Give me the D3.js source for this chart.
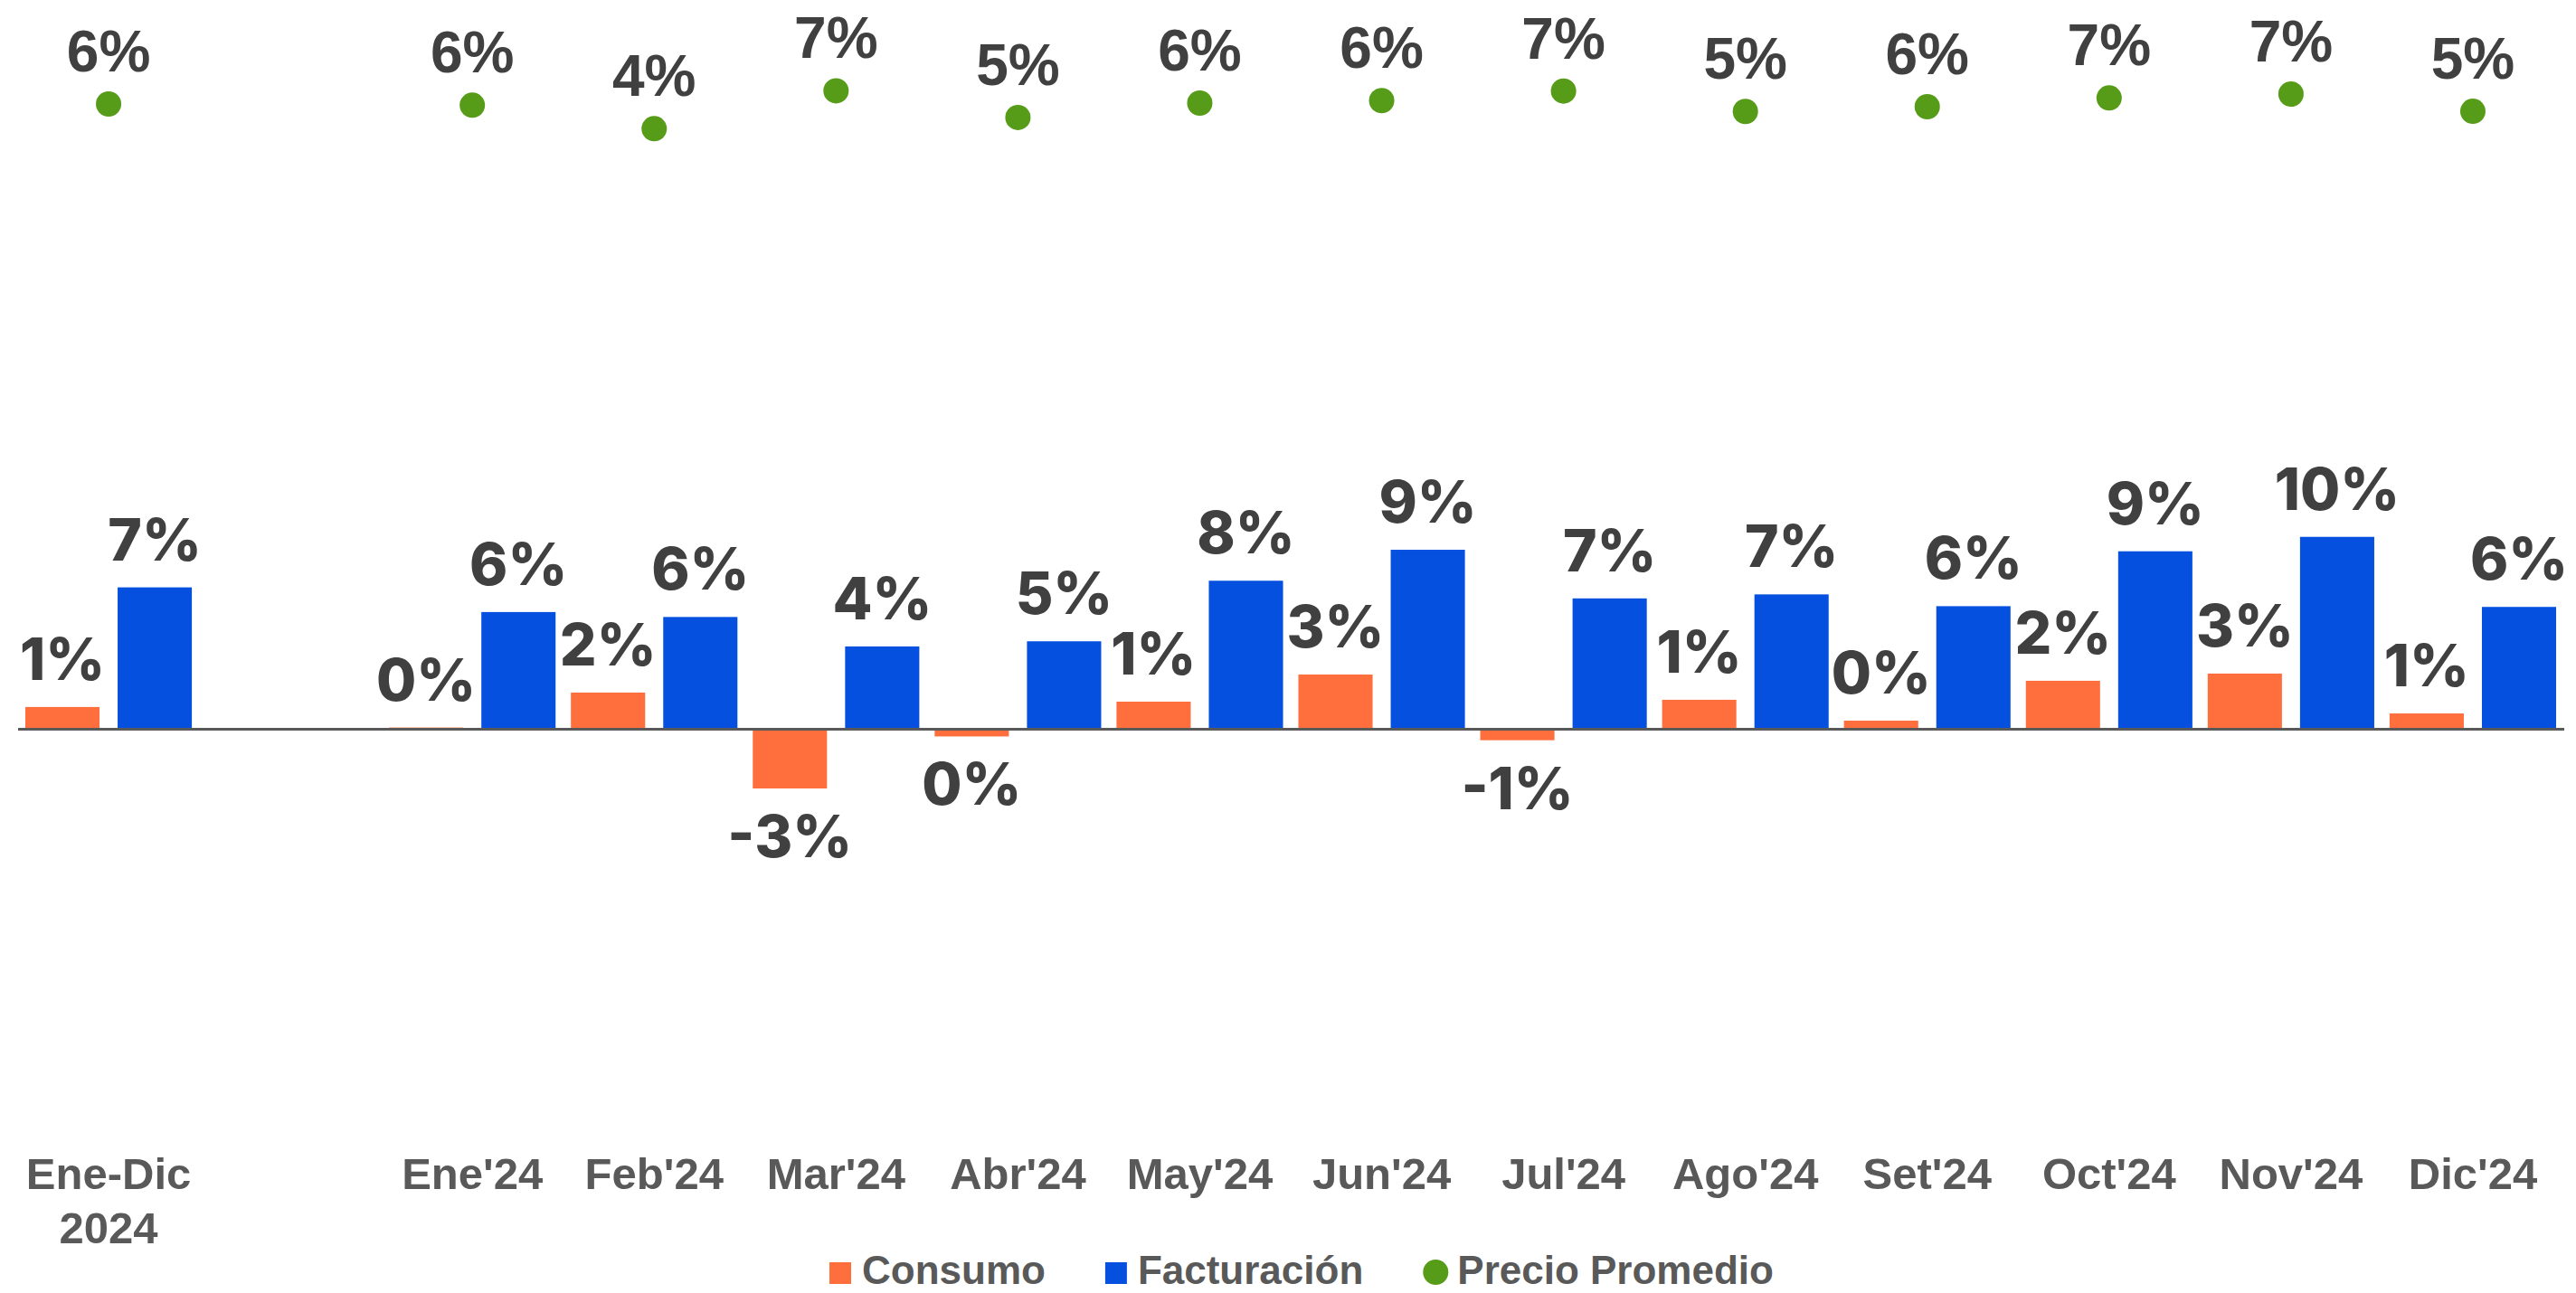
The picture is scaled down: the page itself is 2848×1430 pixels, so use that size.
<!DOCTYPE html>
<html>
<head>
<meta charset="utf-8">
<script src="https://cdn.jsdelivr.net/npm/d3@7"></script>
<style>
  body { margin: 0; background: #fff; }
  svg { display: block; }
</style>
</head>
<body>
<svg id="chart" width="2848" height="1430"></svg>
<script>
// data ("" is the empty spacer slot between the year total and the months)
var categorias = ["Ene-Dic 2024", "", "Ene'24", "Feb'24", "Mar'24", "Abr'24", "May'24", "Jun'24",
                  "Jul'24", "Ago'24", "Set'24", "Oct'24", "Nov'24", "Dic'24"];
var consumo     = [1.10, null, 0.02, 1.86, -3.19, -0.45, 1.38, 2.81, -0.65, 1.48, 0.38, 2.48, 2.86, 0.76];
var facturacion = [7.40, null, 6.10, 5.84, 4.29, 4.56, 7.75, 9.38, 6.82, 7.03, 6.41, 9.30, 10.06, 6.37];
var precio      = [6.09, null, 5.97, 3.61, 7.42, 4.73, 6.18, 6.43, 7.39, 5.34, 5.82, 6.70, 7.09, 5.36];
var series = ["Consumo", "Facturación"];
var leyenda = ["Consumo", "Facturación", "Precio Promedio"];

var orange = '#ff6e3d';
var blue = '#0650e0';
var green = '#579c18';
var labelGrey = '#404040';
var axisGrey = '#595959';

var svg = d3.select('#chart');

/// Scales
var x = d3.scaleBand()
  .domain(categorias)
  .range([19.5, 2834.5])
  .padding(0);

var x1 = d3.scaleBand()
  .domain(series)
  .range([0, x.bandwidth()])
  .paddingInner(0.196)
  .paddingOuter(0.083);

var y = d3.scaleLinear().domain([0, 10]).range([805, 595]);
var y2 = d3.scaleLinear().domain([0, 10]).range([182, 72]);

var color = { 'Consumo': orange, 'Facturación': blue };

var rows = [];
categorias.forEach(function (c, i) {
  if (consumo[i] === null) return;
  rows.push({ cat: c, serie: 'Consumo', v: consumo[i] });
  rows.push({ cat: c, serie: 'Facturación', v: facturacion[i] });
});

function pct(v) {
  var r = Math.round(v);
  if (r === 0) r = 0; // drop -0
  return r + '%';
}

/// Bars
svg.append('g').selectAll('rect')
  .data(rows)
  .enter().append('rect')
  .attr('x', function (d) { return x(d.cat) + x1(d.serie); })
  .attr('width', x1.bandwidth())
  .attr('y', function (d) { return Math.min(y(d.v), y(0)); })
  .attr('height', function (d) { return Math.abs(y(d.v) - y(0)); })
  .attr('fill', function (d) { return color[d.serie]; });

/// zero line
svg.append('g')
  .attr('transform', 'translate(0,' + (y(0) + 1) + ')')
  .call(d3.axisBottom(x).tickSize(0).tickSizeOuter(0).tickFormat(''))
  .call(function (g) {
    g.select('.domain').attr('stroke', axisGrey).attr('stroke-width', 3);
  });

/// bar labels
svg.append('g').selectAll('text')
  .data(rows)
  .enter().append('text')
  .attr('text-anchor', 'middle')
  .attr('x', function (d) { return x(d.cat) + x1(d.serie) + x1.bandwidth() / 2; })
  .attr('y', function (d) { return d.v >= 0 ? y(d.v) - 30 : y(d.v) + 76; })
  .attr('font-family', 'Inter, "Noto Sans", sans-serif')
  .attr('font-weight', 800)
  .attr('font-size', '64px')
  .attr('fill', labelGrey)
  .text(function (d) { return pct(d.v); });

/// precio promedio dots
var puntos = categorias.map(function (c, i) { return { cat: c, v: precio[i] }; })
  .filter(function (d) { return d.v !== null; });

svg.append('g').selectAll('circle')
  .data(puntos)
  .enter().append('circle')
  .attr('cx', function (d) { return x(d.cat) + x.bandwidth() / 2; })
  .attr('cy', function (d) { return y2(d.v); })
  .attr('r', 14)
  .attr('fill', green);

svg.append('g').selectAll('text')
  .data(puntos)
  .enter().append('text')
  .attr('text-anchor', 'middle')
  .attr('x', function (d) { return x(d.cat) + x.bandwidth() / 2; })
  .attr('y', function (d) { return y2(d.v) - 36; })
  .attr('font-family', '"Liberation Sans", Arial, sans-serif')
  .attr('font-weight', 'bold')
  .attr('font-size', '64px')
  .attr('fill', labelGrey)
  .text(function (d) { return pct(d.v); });

/// category labels
var xAxis = svg.append('g')
  .attr('transform', 'translate(0,1315)')
  .call(d3.axisBottom(x).tickSize(0).tickPadding(0));
xAxis.select('.domain').remove();
xAxis.selectAll('text')
  .attr('dy', null)
  .attr('font-family', '"Liberation Sans", Arial, sans-serif')
  .attr('font-weight', 'bold')
  .attr('font-size', '49px')
  .attr('fill', axisGrey)
  .each(function (d) {
    var t = d3.select(this);
    var parts = d === 'Ene-Dic 2024' ? ['Ene-Dic', '2024'] : [d];
    t.text(null);
    parts.forEach(function (p, i) {
      t.append('tspan').attr('x', 0).attr('dy', i === 0 ? 0 : 60).text(p);
    });
  });

/// legend
var legend = svg.append('g').attr('transform', 'translate(917,1420)');
var lx = 0;
leyenda.forEach(function (name, i) {
  var item = legend.append('g').attr('transform', 'translate(' + lx + ',0)');
  if (i < 2) {
    item.append('rect').attr('x', 0).attr('y', -24).attr('width', 24).attr('height', 24)
      .attr('fill', i === 0 ? orange : blue);
  } else {
    item.append('circle').attr('cx', 14).attr('cy', -13).attr('r', 14).attr('fill', green);
  }
  var txt = item.append('text')
    .attr('x', i < 2 ? 36 : 38)
    .attr('y', 0)
    .attr('font-family', '"Liberation Sans", Arial, sans-serif')
    .attr('font-weight', 'bold')
    .attr('font-size', '44px')
    .attr('fill', axisGrey)
    .text(name);
  lx += (i < 2 ? 36 : 38) + txt.node().getComputedTextLength() + 66;
});
</script>
</body>
</html>
